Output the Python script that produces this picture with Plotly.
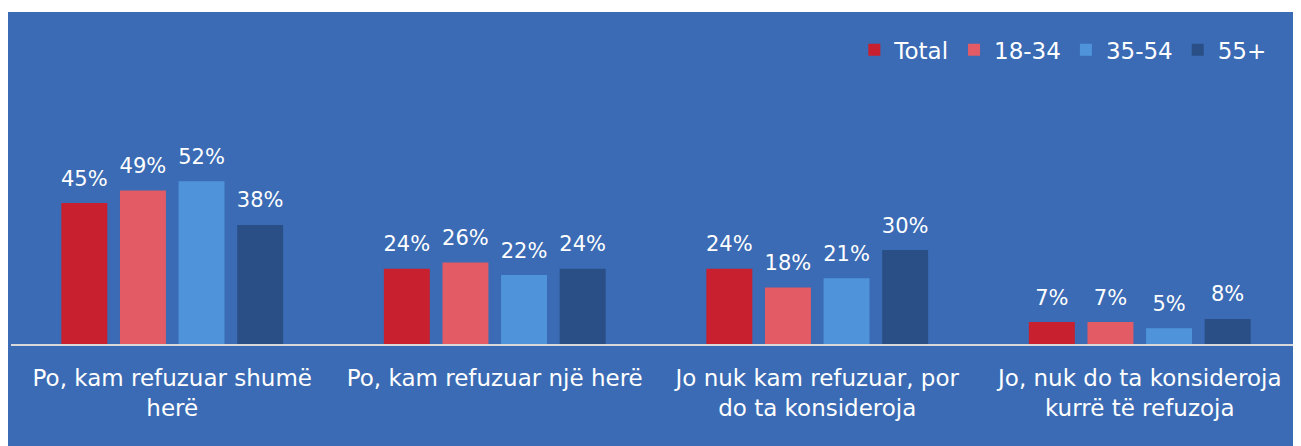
import plotly.graph_objects as go

categories = ["Po, kam refuzuar shumë<br>herë", "Po, kam refuzuar një herë",
              "Jo nuk kam refuzuar, por<br>do ta konsideroja", "Jo, nuk do ta konsideroja<br>kurrë të refuzoja"]
series_names = ["Total", "18-34", "35-54", "55+"]
total = [45, 24, 24, 7]
age_18_34 = [49, 26, 18, 7]
age_35_54 = [52, 22, 21, 5]
age_55 = [38, 24, 30, 8]
colors = ["#C9202F", "#E35B65", "#4F94DA", "#2A4F87"]

BG = "#3A6BB4"
FONT = "DejaVu Sans"

fig = go.Figure()
for i, (name, vals, col) in enumerate(zip(series_names, [total, age_18_34, age_35_54, age_55], colors)):
    fig.add_trace(go.Bar(
        x=categories, y=vals, name=name, marker=dict(color=col, line=dict(width=0)),
        offsetgroup=str(i), alignmentgroup="a",
    ))
for i, (name, vals) in enumerate(zip(series_names, [total, age_18_34, age_35_54, age_55])):
    fig.add_trace(go.Scatter(
        x=categories, y=vals, mode="markers+text", showlegend=False,
        offsetgroup=str(i), alignmentgroup="a",
        marker=dict(size=18, opacity=0, color="white"),
        text=[f"{v}%" for v in vals], textposition="top center", cliponaxis=False,
        textfont=dict(color="white", size=21, family=FONT), hoverinfo="skip",
    ))

fig.add_shape(type="rect", xref="paper", yref="paper", x0=-0.01, x1=1.01, y0=-0.4, y1=1,
              fillcolor=BG, line=dict(width=0), layer="below")

fig.update_layout(
    width=1293, height=438,
    margin=dict(l=3, r=0, t=4, b=102),
    paper_bgcolor="white", plot_bgcolor=BG,
    barmode="group", bargap=0.273, bargroupgap=0.216,
    scattermode="group", scattergap=0.273,
    font=dict(family=FONT, color="white", size=23),
    showlegend=True,
    legend=dict(orientation="h", x=0.977, xanchor="right", y=0.886, yanchor="middle",
                font=dict(size=23, color="white", family=FONT), bgcolor="rgba(0,0,0,0)",
                itemwidth=30, tracegroupgap=0, traceorder="normal"),
    xaxis=dict(showgrid=False, showline=True, linecolor="#D9D9D9", linewidth=2,
               ticks="outside", ticklen=12, tickcolor="rgba(0,0,0,0)",
               tickfont=dict(size=23, color="white", family=FONT)),
    yaxis=dict(range=[0, 106], visible=False, showgrid=False, zeroline=False),
)

fig.write_html("out.html")
